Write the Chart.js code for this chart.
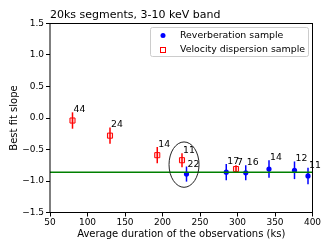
<!DOCTYPE html>
<html>
<head>
<meta charset="utf-8">
<script src="https://cdn.jsdelivr.net/npm/chart.js@4/dist/chart.umd.min.js"></script>
<style>
html, body { margin: 0; padding: 0; background: #fff; }
#wrap { width: 332px; height: 249px; }
</style>
</head>
<body>
<div id="wrap"><canvas id="chart"></canvas></div>
<script>
// reverberation sample (blue dots)
var revX = [232, 285, 311, 342, 376, 394];
var revY = [-0.89, -0.86, -0.87, -0.81, -0.83, -0.92];
var revErr = [0.12, 0.13, 0.12, 0.14, 0.14, 0.13];
var revN = ['22', '17', '16', '14', '12', '11'];

// velocity dispersion sample (red squares)
var velX = [80, 130, 193, 226, 298];
var velY = [-0.04, -0.28, -0.59, -0.67, -0.81];
var velErr = [0.13, 0.13, 0.13, 0.11, 0.06];
var velN = ['44', '24', '14', '11', '7'];

var fitSlope = -0.86;
var xRange = [50, 400];
var yRange = [-1.5, 1.5];

var FONT = 'DejaVu Sans';

function pts(xs, ys) {
    return xs.map(function (x, i) { return {x: x, y: ys[i]}; });
}

var groups = [
    {xs: velX, ys: velY, err: velErr, n: velN, color: '#ff0000'},
    {xs: revX, ys: revY, err: revErr, n: revN, color: '#0000ff'}
];

var extras = {
    id: 'extras',
    beforeDatasetsDraw: function (chart) {
        var ctx = chart.ctx, xs = chart.scales.x, ys = chart.scales.y;
        ctx.save();
        ctx.lineWidth = 1.5;
        groups.forEach(function (g) {
            ctx.strokeStyle = g.color;
            g.xs.forEach(function (x, i) {
                var px = xs.getPixelForValue(x);
                ctx.beginPath();
                ctx.moveTo(px, ys.getPixelForValue(g.ys[i] + g.err[i]));
                ctx.lineTo(px, ys.getPixelForValue(g.ys[i] - g.err[i]));
                ctx.stroke();
            });
        });
        ctx.restore();
    },
    afterDatasetsDraw: function (chart) {
        var ctx = chart.ctx, xs = chart.scales.x, ys = chart.scales.y;
        var a = chart.chartArea;
        ctx.save();
        // count labels
        ctx.fillStyle = '#000';
        ctx.font = '9.3px ' + FONT;
        ctx.textBaseline = 'alphabetic';
        ctx.textAlign = 'left';
        groups.forEach(function (g) {
            g.xs.forEach(function (x, i) {
                ctx.fillText(g.n[i], xs.getPixelForValue(x) + 1, ys.getPixelForValue(g.ys[i] + g.err[i]));
            });
        });
        // ellipse round the pair near 230 ks
        var cx = xs.getPixelForValue(228.7), cy = ys.getPixelForValue(-0.74);
        var rx = Math.abs(xs.getPixelForValue(228.7 + 20) - cx);
        var ry = Math.abs(ys.getPixelForValue(-0.74 + 0.36) - cy);
        ctx.strokeStyle = '#222';
        ctx.lineWidth = 1;
        ctx.beginPath();
        ctx.ellipse(cx, cy, rx, ry, 0, 0, Math.PI * 2);
        ctx.stroke();
        // frame
        ctx.strokeStyle = '#000';
        ctx.lineWidth = 1;
        ctx.strokeRect(a.left, a.top, a.right - a.left, a.bottom - a.top);
        // title
        ctx.font = '11px ' + FONT;
        ctx.fillText('20ks segments, 3-10 keV band', a.left, a.top - 6);
        // legend
        var lx = 150, ly = 27, lw = 158, lh = 29;
        ctx.fillStyle = 'rgba(255,255,255,0.8)';
        ctx.strokeStyle = '#cccccc';
        ctx.beginPath();
        ctx.roundRect(lx + 0.5, ly + 0.5, lw, lh, 2);
        ctx.fill();
        ctx.stroke();
        ctx.fillStyle = '#0000ff';
        ctx.beginPath();
        ctx.arc(163, 35.5, 2.5, 0, Math.PI * 2);
        ctx.fill();
        ctx.strokeStyle = '#ff0000';
        ctx.lineWidth = 1;
        ctx.strokeRect(160.5, 47.5, 5, 5);
        ctx.fillStyle = '#000';
        ctx.font = '9.4px ' + FONT;
        ctx.textBaseline = 'middle';
        ctx.fillText('Reverberation sample', 180, 35.5);
        ctx.fillText('Velocity dispersion sample', 180, 50);
        ctx.restore();
    }
};

new Chart(document.getElementById('chart'), {
    type: 'scatter',
    data: {
        datasets: [
            {
                label: 'fit',
                type: 'line',
                data: pts(xRange, [fitSlope, fitSlope]),
                borderColor: '#008000',
                borderWidth: 1.5,
                pointRadius: 0
            },
            {
                label: 'Reverberation sample',
                data: pts(revX, revY),
                backgroundColor: '#0000ff',
                borderColor: '#0000ff',
                borderWidth: 0,
                pointRadius: 2.6
            },
            {
                label: 'Velocity dispersion sample',
                data: pts(velX, velY),
                pointStyle: 'rect',
                backgroundColor: 'rgba(255,0,0,0.15)',
                borderColor: '#ff0000',
                borderWidth: 1,
                pointRadius: 3.6
            }
        ]
    },
    options: {
        animation: false,
        responsive: true,
        maintainAspectRatio: false,
        layout: {padding: {top: 23.5, right: 19.5, left: 0, bottom: 0}},
        plugins: {
            legend: {display: false},
            tooltip: {enabled: false}
        },
        scales: {
            x: {
                type: 'linear',
                min: xRange[0],
                max: xRange[1],
                afterFit: function (s) { s.height = 36.5; },
                grid: {drawOnChartArea: false, color: '#000', tickLength: 4},
                border: {display: false},
                ticks: {stepSize: 50, color: '#000', padding: 1, font: {family: FONT, size: 9}},
                title: {display: true, text: 'Average duration of the observations (ks)', color: '#000',
                    font: {family: FONT, size: 10}, padding: {top: 0, bottom: 9}}
            },
            y: {
                min: yRange[0],
                max: yRange[1],
                afterFit: function (s) { s.width = 50; },
                grid: {drawOnChartArea: false, color: '#000', tickLength: 4},
                border: {display: false},
                ticks: {stepSize: 0.5, color: '#000', padding: 2, font: {family: FONT, size: 9},
                    callback: function (v) { return v.toFixed(1).replace('-', '\u2212'); }},
                title: {display: true, text: 'Best fit slope', color: '#000',
                    font: {family: FONT, size: 10}, padding: {top: 8, bottom: 0}}
            }
        }
    },
    plugins: [extras]
});
</script>
</body>
</html>
